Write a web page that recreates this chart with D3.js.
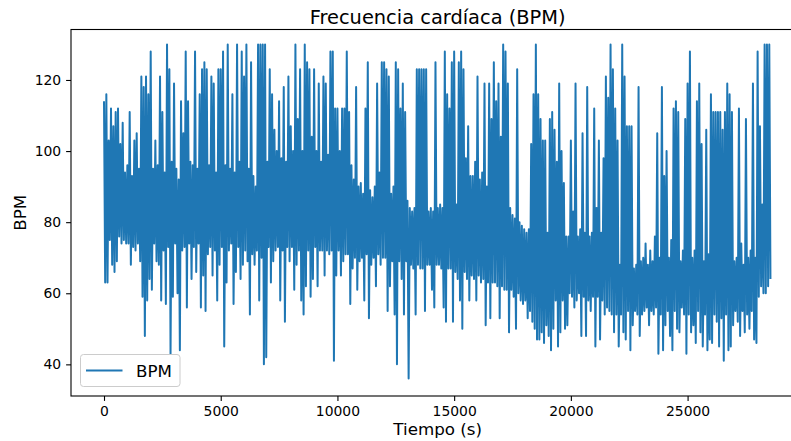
<!DOCTYPE html>
<meta charset="utf-8">
<script src="https://d3js.org/d3.v7.min.js"></script>
<style>
body { margin: 0; padding: 0; background: #fff; }
text { font-family: 'DejaVu Sans', sans-serif; fill: #000; }
</style>
<body>
<div id="chart"></div>
<script>

// labels
var title = "Frecuencia cardíaca (BPM)";
var xLabel = "Tiempo (s)";
var yLabel = "BPM";
var seriesName = "BPM";
var xTicks = [0, 5000, 10000, 15000, 20000, 25000];
var yTicks = [40, 60, 80, 100, 120];

// one reading every 50 s (one row = 1000 s)
var sampleStep = 50;
var bpm = [
  114,63,116,63,103,75,112,68,107,66,111,69,112,76,102,74,108,75,94,74,
  96,74,111,68,93,73,103,72,105,74,95,69,121,59,118,48,121,58,116,64,
  128,61,95,74,103,69,96,68,121,58,111,72,94,57,130,73,123,43,97,59,
  119,74,95,60,92,44,114,72,105,73,128,56,114,74,97,64,96,73,128,66,
  95,74,116,56,123,65,125,55,123,71,96,73,121,65,119,72,94,58,123,68,
  123,73,128,45,96,63,130,72,95,74,116,57,94,66,130,73,97,64,128,68,
  121,72,130,69,95,54,125,71,93,68,90,72,130,58,130,70,130,40,130,42,
  97,73,123,63,116,69,106,72,100,73,114,58,98,72,118,52,97,73,121,69,
  107,73,100,61,130,68,109,72,123,58,100,54,130,62,125,72,123,59,104,64,
  123,73,100,62,119,72,97,72,121,65,119,72,99,71,128,72,128,41,112,65,
  112,72,100,65,112,69,112,71,128,71,111,57,96,67,92,70,118,61,90,69,
  91,70,88,58,112,71,125,53,89,68,87,70,90,62,119,71,94,68,125,70,
  125,70,123,55,121,62,88,69,90,54,125,40,123,69,112,64,119,54,111,69,
  86,36,84,68,83,67,84,54,123,68,123,67,123,67,123,55,123,68,83,68,
  84,61,83,56,125,68,84,68,85,67,84,56,128,52,116,67,112,67,125,52,
  128,66,85,64,125,58,128,50,123,66,98,64,107,58,93,65,93,64,97,58,
  121,65,92,63,94,64,119,51,90,63,119,53,109,63,125,63,114,62,119,53,
  104,62,130,61,128,61,119,49,84,61,82,59,81,50,123,60,80,58,79,57,
  78,58,77,53,78,55,102,52,116,50,130,47,116,47,109,49,103,46,103,51,
  77,48,109,44,111,50,106,58,97,45,119,49,100,58,91,50,76,51,76,60,
  103,59,83,56,119,58,76,60,78,48,105,59,77,48,118,58,76,55,77,59,
  112,45,84,59,103,47,77,58,98,54,121,56,115,55,130,54,123,49,112,54,
  103,45,68,54,130,49,121,47,107,55,107,44,107,51,67,55,68,54,118,48,
  69,54,70,55,74,56,68,51,72,55,69,54,76,56,105,43,70,54,118,44,
  93,51,100,55,70,48,75,44,112,55,114,50,111,49,69,56,72,54,109,43,
  119,54,128,49,70,51,72,46,114,55,119,49,102,45,69,54,106,44,71,47,
  116,46,111,54,111,52,111,45,111,53,106,41,111,54,119,44,116,45,111,51,
  69,55,70,52,112,48,74,55,68,49,109,54,70,50,72,55,119,47,70,46,
  128,59,107,62,85,60,130,60,130,62,130,64
];

var W = 791, H = 441;
var plot = {left: 71, top: 29.5, right: 804.3, bottom: 396};

var svg = d3.select("#chart")
  .append("svg")
    .attr("width", W)
    .attr("height", H);

var x = d3.scaleLinear()
  .domain([-1414, 30000])
  .range([plot.left, plot.right]);

var y = d3.scaleLinear()
  .domain([31.1, 134.2])
  .range([plot.bottom, plot.top]);

svg.append("clipPath")
    .attr("id", "clip")
  .append("rect")
    .attr("x", plot.left)
    .attr("y", plot.top)
    .attr("width", plot.right - plot.left)
    .attr("height", plot.bottom - plot.top);

// the series
var line = d3.line()
  .x(function(d, i) { return x(i * sampleStep); })
  .y(function(d) { return y(d); });

svg.append("path")
  .datum(bpm)
  .attr("clip-path", "url(#clip)")
  .attr("fill", "none")
  .attr("stroke", "#1f77b4")
  .attr("stroke-width", 2)
  .attr("stroke-linejoin", "round")
  .attr("d", line);

// axes
var xAxis = svg.append("g")
  .attr("transform", "translate(0," + plot.bottom + ")")
  .call(d3.axisBottom(x).tickValues(xTicks).tickFormat(d3.format("d")).tickSize(4.9).tickPadding(4.9));

var yAxis = svg.append("g")
  .attr("transform", "translate(" + plot.left + ",0)")
  .call(d3.axisLeft(y).tickValues(yTicks).tickSize(4.9).tickPadding(4.9));

[xAxis, yAxis].forEach(function(g) {
  g.select(".domain").remove();
  g.selectAll(".tick line").attr("stroke", "#000").attr("stroke-width", 1.1);
  g.selectAll(".tick text")
    .attr("fill", "#000")
    .style("font-family", "'DejaVu Sans', sans-serif")
    .style("font-size", "13.9px");
});

// spines
svg.append("rect")
  .attr("x", plot.left)
  .attr("y", plot.top)
  .attr("width", plot.right - plot.left)
  .attr("height", plot.bottom - plot.top)
  .attr("fill", "none")
  .attr("stroke", "#000")
  .attr("stroke-width", 1.1);

// title and axis labels
svg.append("text")
  .attr("x", (plot.left + plot.right) / 2)
  .attr("y", 24)
  .attr("text-anchor", "middle")
  .style("font-size", "19.4px")
  .text(title);

svg.append("text")
  .attr("x", (plot.left + plot.right) / 2)
  .attr("y", 435)
  .attr("text-anchor", "middle")
  .style("font-size", "16.7px")
  .text(xLabel);

svg.append("text")
  .attr("transform", "translate(26," + ((plot.top + plot.bottom) / 2) + ") rotate(-90)")
  .attr("text-anchor", "middle")
  .style("font-size", "16.7px")
  .text(yLabel);

// legend
var legend = svg.append("g");
legend.append("rect")
  .attr("x", 80.5)
  .attr("y", 354.5)
  .attr("width", 99.5)
  .attr("height", 32)
  .attr("rx", 3)
  .attr("fill", "#fff")
  .attr("fill-opacity", 0.8)
  .attr("stroke", "#cccccc")
  .attr("stroke-width", 1);
legend.append("line")
  .attr("x1", 86)
  .attr("x2", 122.5)
  .attr("y1", 370.5)
  .attr("y2", 370.5)
  .attr("stroke", "#1f77b4")
  .attr("stroke-width", 2);
legend.append("text")
  .attr("x", 136)
  .attr("y", 376.6)
  .style("font-size", "16.7px")
  .text(seriesName);

</script>
</body>
